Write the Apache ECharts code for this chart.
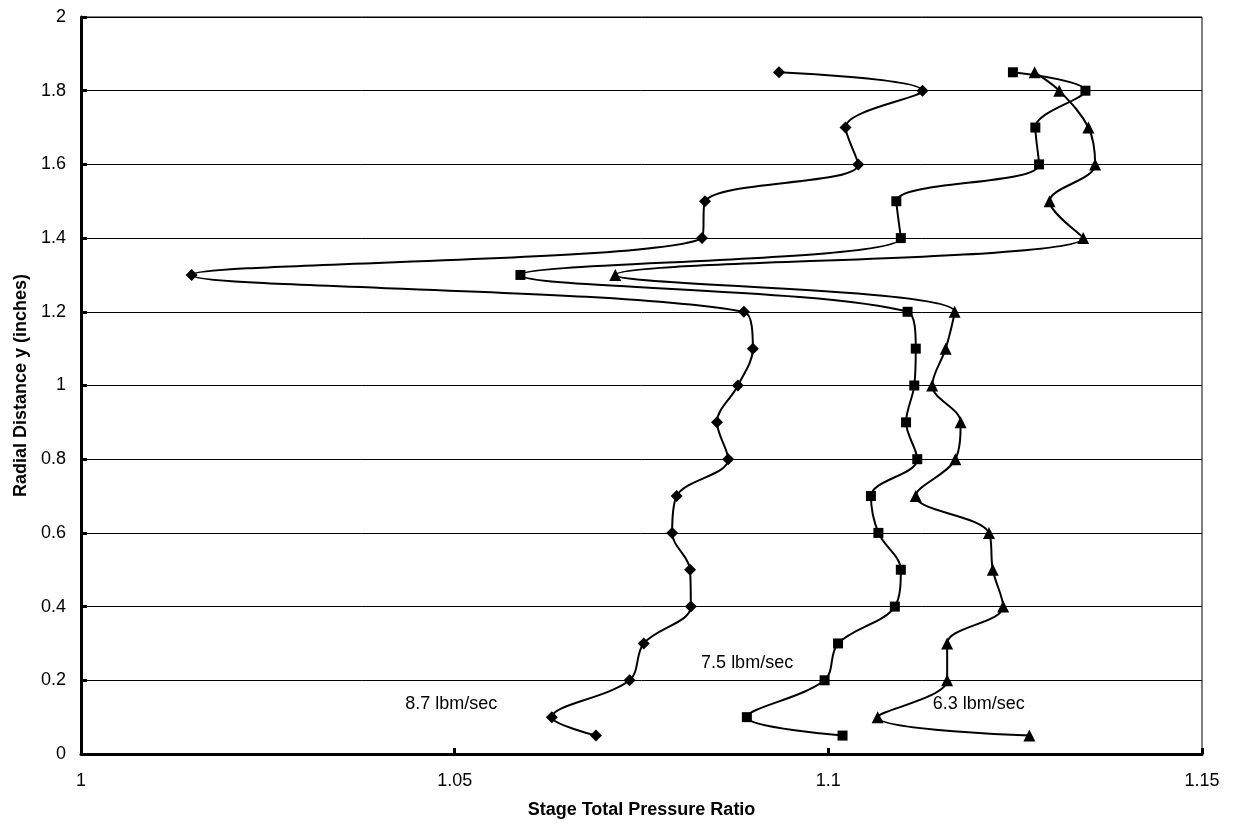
<!DOCTYPE html>
<html>
<head>
<meta charset="utf-8">
<script src="https://cdn.jsdelivr.net/npm/echarts@6/dist/echarts.min.js"></script>
<style>
html,body{margin:0;padding:0;background:#fff;}
#chart{width:1234px;height:827px;}
</style>
</head>
<body>
<div id="chart"></div>
<script>
// Radial positions (inches)
const radial = [0.05, 0.1, 0.2, 0.3, 0.4, 0.5, 0.6, 0.7, 0.8, 0.9, 1.0, 1.1, 1.2, 1.3, 1.4, 1.5, 1.6, 1.7, 1.8, 1.85];
// Stage total pressure ratio for each mass flow
const pr87 = [1.0689, 1.0630, 1.0734, 1.0753, 1.0816, 1.0815, 1.0791, 1.0797, 1.0866, 1.0851, 1.0879, 1.0899, 1.0887, 1.0148, 1.0831, 1.0835, 1.1040, 1.1023, 1.1126, 1.0934];
const pr75 = [1.1019, 1.0891, 1.0995, 1.1013, 1.1089, 1.1097, 1.1067, 1.1057, 1.1119, 1.1104, 1.1115, 1.1117, 1.1106, 1.0588, 1.1097, 1.1091, 1.1282, 1.1277, 1.1344, 1.1247];
const pr63 = [1.1269, 1.1066, 1.1159, 1.1159, 1.1234, 1.1220, 1.1215, 1.1117, 1.1170, 1.1177, 1.1139, 1.1157, 1.1169, 1.0715, 1.1341, 1.1296, 1.1357, 1.1348, 1.1309, 1.1276];
const seriesNames = ['8.7 lbm/sec', '7.5 lbm/sec', '6.3 lbm/sec'];
const labelPos = [[1.0496, 0.135], [1.0892, 0.245], [1.1202, 0.135]];
const xTicks = [1, 1.05, 1.1, 1.15];
const yTicks = [0, 0.2, 0.4, 0.6, 0.8, 1, 1.2, 1.4, 1.6, 1.8, 2];

const pair = (xs) => xs.map((x, i) => [x, radial[i]]);
const font = 'Liberation Sans, Arial, sans-serif';

const chart = echarts.init(document.getElementById('chart'));
const lineSeries = (name, data, symbol, size) => ({
  name, type: 'line', data: pair(data), smooth: 0.35,
  symbol, symbolSize: size,
  lineStyle: {color: '#000', width: 2},
  itemStyle: {color: '#000'},
  z: 3
});
chart.setOption({
  animation: false,
  backgroundColor: '#fff',
  grid: {left: 81, right: 32, top: 17, bottom: 73, show: true, borderColor: '#000', borderWidth: 1},
  xAxis: {
    type: 'value', min: xTicks[0], max: xTicks[xTicks.length - 1], interval: 0.05,
    name: 'Stage Total Pressure Ratio', nameLocation: 'middle', nameGap: 47,
    nameTextStyle: {fontFamily: font, fontWeight: 'bold', fontSize: 18, color: '#000'},
    axisLine: {show: true, lineStyle: {color: '#000', width: 3}},
    axisTick: {show: true, inside: true, length: 6, lineStyle: {color: '#000', width: 3}},
    axisLabel: {fontFamily: font, fontSize: 18, color: '#000', margin: 18},
    splitLine: {show: false}
  },
  yAxis: {
    type: 'value', min: yTicks[0], max: yTicks[yTicks.length - 1], interval: 0.2,
    name: 'Radial Distance y (inches)', nameLocation: 'middle', nameGap: 50, nameRotate: 90,
    nameTextStyle: {fontFamily: font, fontWeight: 'bold', fontSize: 18, color: '#000'},
    axisLine: {show: true, lineStyle: {color: '#000', width: 3}},
    axisTick: {show: true, inside: true, length: 6, lineStyle: {color: '#000', width: 3}},
    axisLabel: {fontFamily: font, fontSize: 18, color: '#000', margin: 15},
    splitLine: {show: true, lineStyle: {color: '#000', width: 1}}
  },
  series: [
    lineSeries(seriesNames[0], pr87, 'diamond', 12),
    lineSeries(seriesNames[1], pr75, 'rect', 10),
    lineSeries(seriesNames[2], pr63, 'triangle', 12),
    {
      type: 'scatter', symbolSize: 1, silent: true,
      itemStyle: {color: 'rgba(0,0,0,0)', opacity: 1},
      data: labelPos.map((p, i) => ({value: p, name: seriesNames[i]})),
      label: {show: true, position: [0, 0], align: 'center', verticalAlign: 'middle',
        formatter: (p) => p.name, fontFamily: font, fontSize: 18,
        color: '#000', opacity: 1, textBorderWidth: 0},
      z: 4
    }
  ]
});
</script>
</body>
</html>
